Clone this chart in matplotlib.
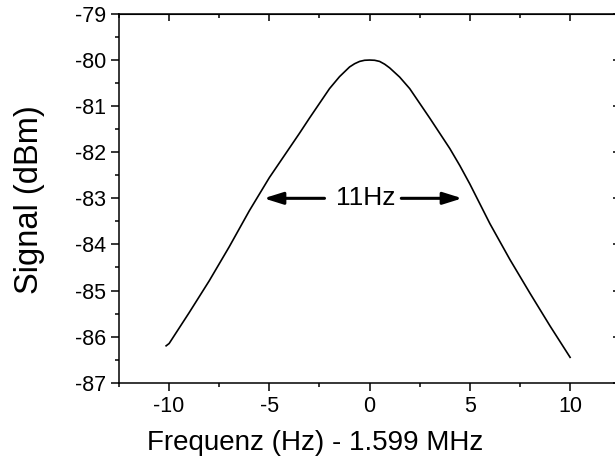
import matplotlib
matplotlib.use("Agg")
import matplotlib.pyplot as plt
from matplotlib.ticker import MultipleLocator

plt.rcParams['font.family'] = ['Liberation Sans', 'DejaVu Sans']
plt.rcParams['axes.unicode_minus'] = False

# frequency offset (Hz) and signal (dBm)
freq = [-10.15, -10.0, -9.0, -8.0, -7.0, -6.0, -5.0, -4.5, -4.0, -3.5, -3.0, -2.5, -2.0,
        -1.5, -1.0, -0.75, -0.5, -0.25, 0.0, 0.25, 0.5, 0.75, 1.0, 1.5, 2.0, 2.5, 3.0,
        3.5, 4.0, 4.5, 5.0, 6.0, 7.0, 8.0, 9.0, 10.0]
signal = [-86.2, -86.15, -85.48, -84.79, -84.05, -83.27, -82.55, -82.23, -81.91, -81.59,
          -81.26, -80.94, -80.62, -80.36, -80.15, -80.08, -80.03, -80.005, -80.0, -80.005,
          -80.03, -80.09, -80.17, -80.37, -80.62, -80.94, -81.26, -81.59, -81.92, -82.29,
          -82.69, -83.55, -84.33, -85.06, -85.77, -86.45]

fwhm_label = "11Hz"
arrow_left = (-2.25, -5.28)
arrow_right = (1.58, 4.62)
arrow_y = -83.0

fig = plt.figure(figsize=(6.15, 4.65), dpi=100)
ax = fig.add_axes([0.1935, 0.177, 0.815, 0.793])

ax.plot(freq, signal, color='black', lw=1.2)

ax.set_xlim(-12.5, 12.5)
ax.set_ylim(-87, -79)
ax.xaxis.set_major_locator(MultipleLocator(5))
ax.xaxis.set_minor_locator(MultipleLocator(2.5))
ax.yaxis.set_major_locator(MultipleLocator(1))
ax.yaxis.set_minor_locator(MultipleLocator(0.5))
ax.tick_params(which='major', direction='out', length=6, width=1.1, labelsize=15.5)
ax.tick_params(which='minor', direction='out', length=3, width=1.1)
for s in ax.spines.values():
    s.set_linewidth(1.1)

top = ax.secondary_xaxis('top')
top.xaxis.set_major_locator(MultipleLocator(5))
top.xaxis.set_minor_locator(MultipleLocator(2.5))
top.tick_params(which='major', direction='in', length=5, width=1.1, labeltop=False)
top.tick_params(which='minor', direction='in', length=3, width=1.1)
right = ax.secondary_yaxis('right')
right.yaxis.set_major_locator(MultipleLocator(1))
right.yaxis.set_minor_locator(MultipleLocator(0.5))
right.tick_params(which='major', direction='in', length=5, width=1.1, labelright=False)
right.tick_params(which='minor', direction='in', length=3, width=1.1)

ax.set_xlabel("Frequenz (Hz) - 1.599 MHz", fontsize=20)
ax.xaxis.set_label_coords(0.391, -0.128)
ax.set_ylabel("Signal (dBm)", fontsize=23.5)
ax.yaxis.set_label_coords(-0.148, 0.497)

ax.text(-0.2, arrow_y, fwhm_label, fontsize=19, ha='center', va='center')
aprops = dict(arrowstyle='-|>,head_length=1.15,head_width=0.36', lw=2.2, color='black',
              shrinkA=0, shrinkB=0, mutation_scale=10)
ax.annotate('', xy=(arrow_left[1], arrow_y), xytext=(arrow_left[0], arrow_y), arrowprops=aprops)
ax.annotate('', xy=(arrow_right[1], arrow_y), xytext=(arrow_right[0], arrow_y), arrowprops=aprops)

fig.savefig("out.png", dpi=100)
